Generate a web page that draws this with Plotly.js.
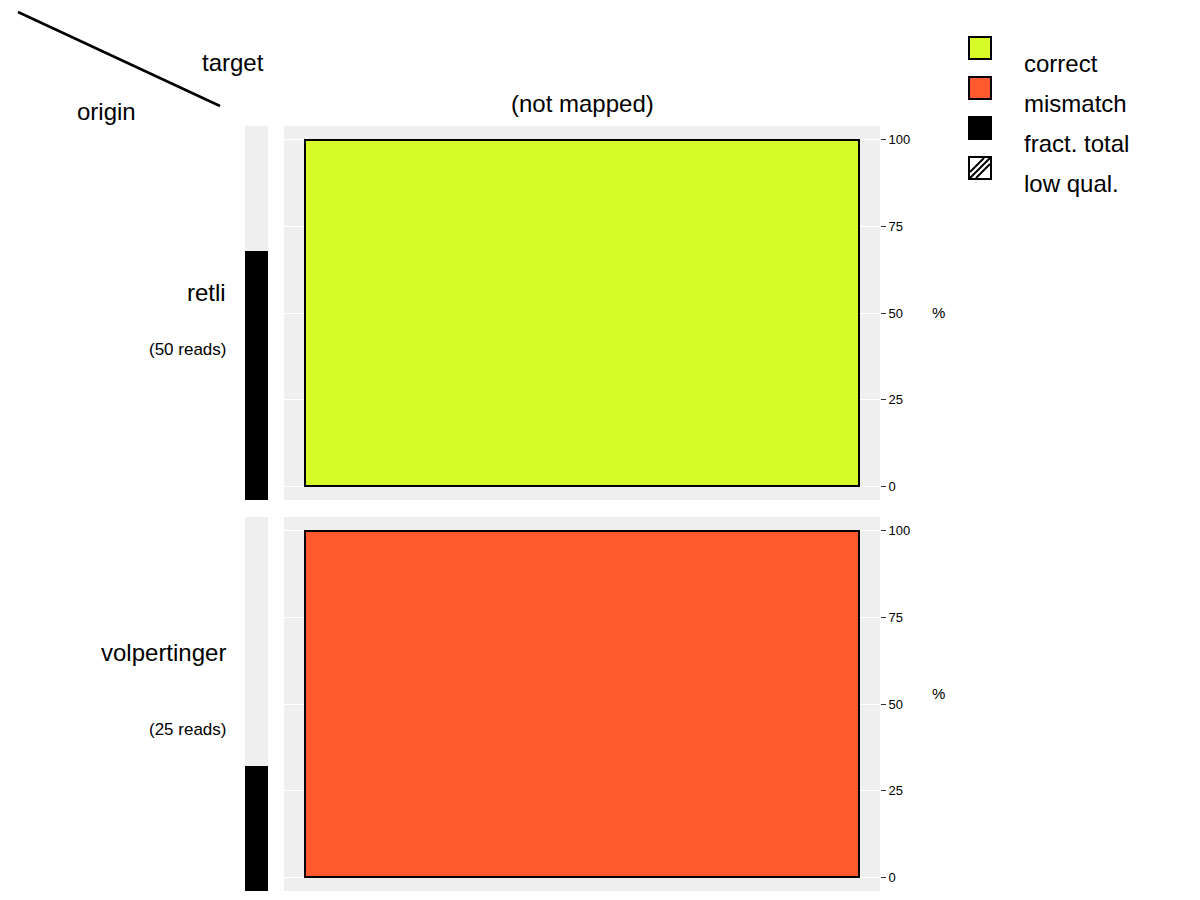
<!DOCTYPE html>
<html>
<head>
<meta charset="utf-8">
<script src="https://cdn.plot.ly/plotly-3.0.1.min.js"></script>
<style>body{margin:0}#chart{width:1200px;height:900px}</style>
</head>
<body>
<div id="chart"></div>
<script>
var origins = ["retli", "volpertinger"];
var reads = [50, 25];
var target = "(not mapped)";
var correctPct = [100, 0];
var mismatchPct = [0, 100];
var tickVals = [0, 25, 50, 75, 100];

var totalReads = reads.reduce(function (a, b) { return a + b; }, 0);
var FONT = "Liberation Sans, Arial, sans-serif";
var W = 1200, H = 900;
function px(x) { return x / W; }
function py(y) { return 1 - y / H; }

var panels = [[126, 500], [517, 891]];
var traces = [];
var layout = {
  width: W, height: H,
  margin: { t: 0, r: 0, b: 0, l: 0 },
  paper_bgcolor: "white", plot_bgcolor: "#efefef",
  showlegend: false, barmode: "stack", bargap: 0.07,
  font: { family: FONT, color: "black" },
  shapes: [], annotations: []
};

origins.forEach(function (o, i) {
  var n = i === 0 ? "" : String(i * 2 + 1);
  var ns = String(i * 2 + 2);
  var xa = "x" + n, ya = "y" + n, xs = "x" + ns, ys = "y" + ns;
  var dom = [py(panels[i][1]), py(panels[i][0])];

  traces.push({ type: "bar", x: [target], y: [correctPct[i]], xaxis: xa, yaxis: ya,
    marker: { color: "#d7fb29", line: { color: "black", width: 2 } }, hoverinfo: "skip" });
  traces.push({ type: "bar", x: [target], y: [mismatchPct[i]], xaxis: xa, yaxis: ya,
    marker: { color: "#ff5a2e", line: { color: "black", width: 2 } }, hoverinfo: "skip" });
  traces.push({ type: "bar", x: ["f"], y: [reads[i] / totalReads], xaxis: xs, yaxis: ys,
    width: 1, marker: { color: "black" }, hoverinfo: "skip" });

  layout["xaxis" + n] = { domain: [px(284), px(880)], anchor: ya, showticklabels: false,
    ticks: "", showgrid: false, zeroline: false };
  layout["yaxis" + n] = { domain: dom, anchor: xa, side: "right", range: [-3.9, 104],
    tickvals: tickVals, ticks: "outside", ticklen: 5, tickcolor: "#333", tickwidth: 1,
    gridcolor: "white", gridwidth: 1.2, zeroline: false,
    tickfont: { size: 13, family: FONT, color: "black" } };
  layout["xaxis" + ns] = { domain: [px(245), px(268)], anchor: ys, range: [-0.5, 0.5],
    showticklabels: false, ticks: "", showgrid: false, zeroline: false };
  layout["yaxis" + ns] = { domain: dom, anchor: xs, range: [0, 1], showticklabels: false,
    ticks: "", showgrid: false, zeroline: false };

  var midY = (panels[i][0] + panels[i][1]) / 2;
  layout.annotations.push({ xref: "paper", yref: "paper", x: px(930), y: py(midY),
    text: "%", showarrow: false, xanchor: "left", font: { size: 15 } });
  layout.annotations.push({ xref: "paper", yref: "paper", x: px(228), y: py(panels[i][0] + 151),
    text: o, showarrow: false, xanchor: "right", font: { size: 24 } });
  layout.annotations.push({ xref: "paper", yref: "paper", x: px(228), y: py(panels[i][0] + 224),
    text: "(" + reads[i] + " reads)", showarrow: false, xanchor: "right", font: { size: 17 } });
});

layout.annotations.push({ xref: "paper", yref: "paper", x: px(582), y: py(88),
  text: target, showarrow: false, font: { size: 24 } });
layout.annotations.push({ xref: "paper", yref: "paper", x: px(200), y: py(47),
  text: "target", showarrow: false, font: { size: 24 } });
layout.annotations.push({ xref: "paper", yref: "paper", x: px(75), y: py(96),
  text: "origin", showarrow: false, font: { size: 24 } });
layout.shapes.push({ type: "line", xref: "paper", yref: "paper",
  x0: px(18), y0: py(12), x1: px(220), y1: py(106), line: { color: "black", width: 2.5 } });

// legend
var legItems = [["correct", "#d7fb29"], ["mismatch", "#ff5a2e"], ["fract. total", "black"], ["low qual.", "white"]];
legItems.forEach(function (it, k) {
  var cy = 48 + k * 40;
  layout.shapes.push({ type: "rect", xref: "paper", yref: "paper",
    x0: px(969), x1: px(991), y0: py(cy + 11), y1: py(cy - 11),
    fillcolor: it[1], line: { color: "black", width: 2 } });
  if (k === 3) {
    [-6, 0, 6].forEach(function (d) {
      layout.shapes.push({ type: "line", xref: "paper", yref: "paper",
        x0: px(969 + Math.max(0, d) + 1), y0: py(cy + 11 - Math.max(0, -d) - 1),
        x1: px(991 - Math.max(0, -d) - 1), y1: py(cy - 11 + Math.max(0, d) + 1),
        line: { color: "black", width: 2 } });
    });
  }
  layout.annotations.push({ xref: "paper", yref: "paper", x: px(1022), y: py(cy),
    text: it[0], showarrow: false, xanchor: "left", font: { size: 24 } });
});

Plotly.newPlot("chart", traces, layout, { displayModeBar: false });
</script>
</body>
</html>
